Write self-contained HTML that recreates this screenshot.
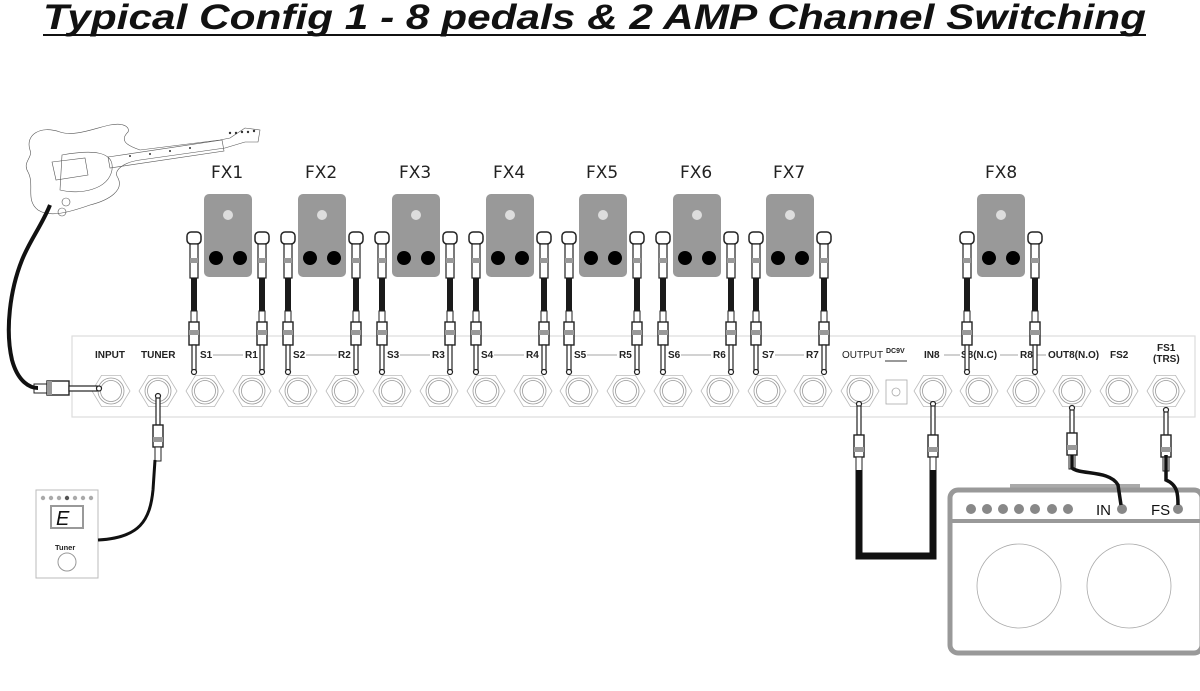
<!DOCTYPE html>
<html><head><meta charset="utf-8"><style>
html,body{margin:0;padding:0;background:#fff;}
svg{display:block;}
.lbl{font-family:"Liberation Sans",sans-serif;font-weight:bold;font-size:10px;fill:#222;}
.fx{font-family:"DejaVu Sans","Liberation Sans",sans-serif;font-size:17px;fill:#222;}
</style></head><body>
<svg id="s" width="1200" height="691" viewBox="0 0 1200 691" xmlns="http://www.w3.org/2000/svg">
<text x="43" y="29" font-family="Liberation Sans,sans-serif" font-weight="bold" font-style="italic" font-size="35" textLength="1103" lengthAdjust="spacingAndGlyphs" fill="#111">Typical Config 1 - 8 pedals &amp; 2 AMP Channel Switching</text>
<rect x="43" y="34" width="1103" height="2" fill="#111"/>

<!-- panel -->
<rect x="72" y="336" width="1123" height="81" fill="#fff" stroke="#ddd" stroke-width="1.2"/>
<g id="jacks"></g>
<g class="lbl">
<text x="95" y="358">INPUT</text>
<text x="141" y="358">TUNER</text>
<text x="200" y="358">S1</text><text x="245" y="358">R1</text>
<text x="293" y="358">S2</text><text x="338" y="358">R2</text>
<text x="387" y="358">S3</text><text x="432" y="358">R3</text>
<text x="481" y="358">S4</text><text x="526" y="358">R4</text>
<text x="574" y="358">S5</text><text x="619" y="358">R5</text>
<text x="668" y="358">S6</text><text x="713" y="358">R6</text>
<text x="762" y="358">S7</text><text x="806" y="358">R7</text>
<text x="842" y="358" font-weight="normal" font-size="10">OUTPUT</text>
<text x="886" y="353" font-size="7">DC9V</text>
<text x="924" y="358">IN8</text>
<text x="961" y="358">S8(N.C)</text>
<text x="1020" y="358">R8</text>
<text x="1048" y="358">OUT8(N.O)</text>
<text x="1110" y="358">FS2</text>
<text x="1157" y="351">FS1</text>
<text x="1153" y="362">(TRS)</text>
</g>
<g id="lines" stroke="#888" stroke-width="0.8"></g>

<g class="fx">
<text x="211" y="178">FX1</text><text x="305" y="178">FX2</text><text x="399" y="178">FX3</text>
<text x="493" y="178">FX4</text><text x="586" y="178">FX5</text><text x="680" y="178">FX6</text>
<text x="773" y="178">FX7</text><text x="985" y="178">FX8</text>
</g>
<g id="pedals"></g>

<!-- guitar -->
<g fill="none" stroke="#555" stroke-width="0.6">
<path d="M30 150 C25 135 40 125 60 132 C75 137 95 128 110 125 C125 122 130 128 128 132 C120 140 125 145 140 150 L220 140 L230 138 L245 128 L260 130 L258 142 L245 142 L225 148 L140 160 C125 162 112 170 118 178 C124 190 110 200 90 205 C70 212 50 218 38 210 C25 200 35 185 28 172 C22 162 33 158 30 150 Z"/>
<path d="M108 157 L222 140 L224 151 L110 168 Z"/>
<path d="M52 162 L85 158 L88 175 L56 180 Z"/>
<path d="M62 155 C90 150 115 150 112 170 C108 190 80 195 60 190 Z"/>
<circle cx="66" cy="202" r="4"/><circle cx="62" cy="212" r="4"/>
</g>
<g fill="#333"><circle cx="130" cy="156" r="1"/><circle cx="150" cy="154" r="1"/><circle cx="170" cy="151" r="1"/><circle cx="190" cy="148" r="1"/><circle cx="230" cy="133" r="1.2"/><circle cx="236" cy="133" r="1.2"/><circle cx="242" cy="132" r="1.2"/><circle cx="248" cy="132" r="1.2"/><circle cx="254" cy="131" r="1.2"/></g>
<path d="M50 205 C42 225 30 240 22 260 C10 290 5 330 12 360 C18 382 30 388 38 388" fill="none" stroke="#111" stroke-width="4"/>
<g id="plugs"></g>

<!-- tuner -->
<rect x="36" y="490" width="62" height="88" fill="#fff" stroke="#bbb"/>
<g fill="#aaa"><circle cx="43" cy="498" r="2.2"/><circle cx="51" cy="498" r="2.2"/><circle cx="59" cy="498" r="2.2"/><circle cx="67" cy="498" r="2.2" fill="#555"/><circle cx="75" cy="498" r="2.2"/><circle cx="83" cy="498" r="2.2"/><circle cx="91" cy="498" r="2.2"/></g>
<rect x="51" y="506" width="32" height="22" fill="#fff" stroke="#999" stroke-width="2"/>
<text x="56" y="525" font-family="Liberation Sans,sans-serif" font-style="italic" font-size="20" fill="#111">E</text>
<text x="55" y="550" font-family="Liberation Sans,sans-serif" font-weight="bold" font-size="7.5" fill="#222">Tuner</text>
<circle cx="67" cy="562" r="9" fill="#fff" stroke="#999"/>
<path d="M98 540 C140 538 150 520 153 490 L155 460" fill="none" stroke="#111" stroke-width="3"/>

<!-- output loop -->
<path d="M859 470 L859 556 L933 556 L933 470" fill="none" stroke="#111" stroke-width="7"/>

<!-- amp -->
<rect x="1010" y="484" width="130" height="6" fill="#aaa"/>
<rect x="950" y="490" width="252" height="163" rx="8" fill="#fff" stroke="#999" stroke-width="5"/>
<rect x="952" y="519" width="248" height="4" fill="#999"/>
<g fill="#888">
<circle cx="971" cy="509" r="5"/><circle cx="987" cy="509" r="5"/><circle cx="1003" cy="509" r="5"/><circle cx="1019" cy="509" r="5"/><circle cx="1035" cy="509" r="5"/><circle cx="1052" cy="509" r="5"/><circle cx="1068" cy="509" r="5"/>
<circle cx="1122" cy="509" r="5"/><circle cx="1178" cy="509" r="5"/>
</g>
<text x="1096" y="515" font-family="Liberation Sans,sans-serif" font-size="15" fill="#111">IN</text>
<text x="1151" y="515" font-family="Liberation Sans,sans-serif" font-size="15" fill="#111">FS</text>
<circle cx="1019" cy="586" r="42" fill="none" stroke="#aaa" stroke-width="0.8"/>
<circle cx="1129" cy="586" r="42" fill="none" stroke="#aaa" stroke-width="0.8"/>
<path d="M1072 455 L1072 468 C1080 475 1110 470 1118 485 L1121 505" fill="none" stroke="#111" stroke-width="3.5"/>
<path d="M1166 455 L1166 480 C1178 485 1178 495 1178 505" fill="none" stroke="#111" stroke-width="3.5"/>
</svg>
<script>
var NS="http://www.w3.org/2000/svg";
function el(p,t,a){var e=document.createElementNS(NS,t);for(var k in a)e.setAttribute(k,a[k]);p.appendChild(e);return e;}
var J=document.getElementById('jacks');
var xs=[111,158,205,252,298,345,392,439,486,533,579,626,673,720,767,813,860,933,979,1026,1072,1119,1166];
xs.forEach(function(x){var y=391,r=19,pts=[];for(var i=0;i<6;i++){var a=Math.PI/3*i;pts.push((x+r*Math.cos(a)).toFixed(1)+','+(y+r*Math.sin(a)*0.95).toFixed(1));}
el(J,'polygon',{points:pts.join(' '),fill:'#fff',stroke:'#bbb','stroke-width':0.8});
el(J,'circle',{cx:x,cy:y,r:13,fill:'#fff',stroke:'#999','stroke-width':0.8});
el(J,'circle',{cx:x,cy:y,r:10.5,fill:'#fff',stroke:'#999','stroke-width':0.8});});
el(J,'rect',{x:886,y:380,width:21,height:24,fill:'#fff',stroke:'#aaa','stroke-width':0.8});
el(J,'circle',{cx:896,cy:392,r:4,fill:'#fff',stroke:'#aaa','stroke-width':0.8});
el(J,'line',{x1:885,y1:361,x2:907,y2:361,stroke:'#333','stroke-width':1});
var L=document.getElementById('lines');
[[213,243],[306,337],[400,430],[494,524],[587,617],[681,711],[775,804],[944,960],[1000,1018],[1032,1046]].forEach(function(p){el(L,'line',{x1:p[0],y1:355,x2:p[1],y2:355});});
var P=document.getElementById('pedals');
function cableDown(x){
 el(P,'rect',{x:x-7,y:232,width:14,height:12,rx:4,fill:'#fff',stroke:'#222','stroke-width':1.5});
 el(P,'rect',{x:x-4,y:244,width:8,height:34,fill:'#fff',stroke:'#222','stroke-width':1.2});
 el(P,'rect',{x:x-4,y:258,width:8,height:5,fill:'#999'});
 el(P,'rect',{x:x-3,y:278,width:6,height:33,fill:'#1a1a1a'});
 el(P,'rect',{x:x-3,y:311,width:6,height:12,fill:'#fff',stroke:'#222','stroke-width':1});
 el(P,'rect',{x:x-5,y:322,width:10,height:23,fill:'#fff',stroke:'#222','stroke-width':1.4});
 el(P,'rect',{x:x-5,y:330,width:10,height:5,fill:'#999'});
 el(P,'rect',{x:x-2,y:345,width:4,height:25,fill:'#fff',stroke:'#222','stroke-width':1.2});
 el(P,'circle',{cx:x,cy:372,r:2.5,fill:'#fff',stroke:'#222','stroke-width':1.2});
}
[228,322,416,510,603,697,790,1001].forEach(function(c){
 el(P,'rect',{x:c-24,y:194,width:48,height:83,rx:5,fill:'#999'});
 el(P,'circle',{cx:c,cy:215,r:5,fill:'#ddd'});
 el(P,'circle',{cx:c-12,cy:258,r:7,fill:'#000'});
 el(P,'circle',{cx:c+12,cy:258,r:7,fill:'#000'});
 cableDown(c-34);cableDown(c+34);});
function plugUp(x,top,bodyY){
 el(P,'circle',{cx:x,cy:top,r:2.5,fill:'#fff',stroke:'#222','stroke-width':1.2});
 el(P,'rect',{x:x-2,y:top+2,width:4,height:bodyY-top-2,fill:'#fff',stroke:'#222','stroke-width':1.2});
 el(P,'rect',{x:x-5,y:bodyY,width:10,height:22,fill:'#fff',stroke:'#222','stroke-width':1.4});
 el(P,'rect',{x:x-5,y:bodyY+12,width:10,height:5,fill:'#999'});
 el(P,'rect',{x:x-3,y:bodyY+22,width:6,height:14,fill:'#fff',stroke:'#222','stroke-width':1});
}
plugUp(158,396,425);plugUp(859,404,435);plugUp(933,404,435);plugUp(1072,408,433);plugUp(1166,410,435);
el(P,'rect',{x:34,y:384,width:13,height:9,fill:'#fff',stroke:'#222','stroke-width':1});
el(P,'rect',{x:47,y:381,width:22,height:14,fill:'#fff',stroke:'#222','stroke-width':1.4});
el(P,'rect',{x:47,y:381,width:5,height:14,fill:'#999'});
el(P,'rect',{x:69,y:386,width:28,height:5,fill:'#fff',stroke:'#222','stroke-width':1.2});
el(P,'circle',{cx:99,cy:388.5,r:2.5,fill:'#fff',stroke:'#222','stroke-width':1.2});
</script>
</body></html>
